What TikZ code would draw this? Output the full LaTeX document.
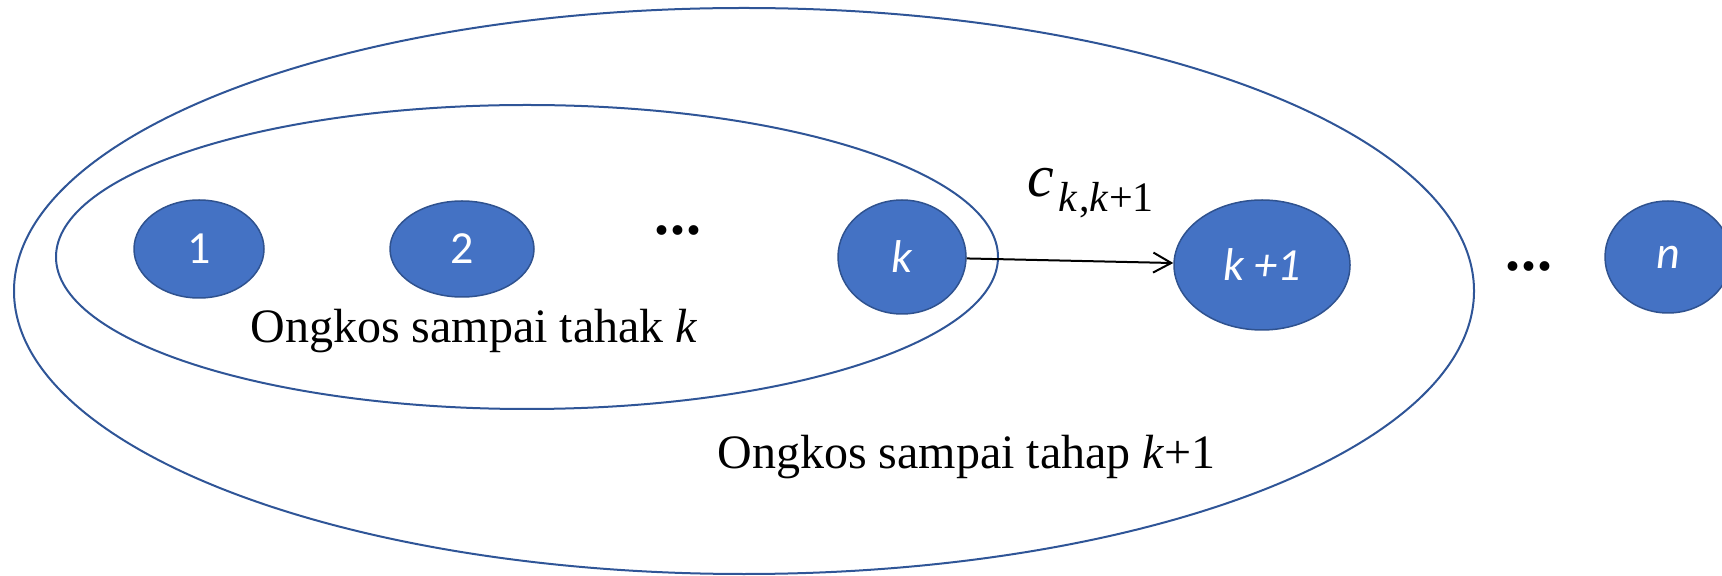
\documentclass[tikz,border=0pt]{standalone}
\usepackage{fontspec}
\setmainfont{Liberation Serif}
\newfontfamily\lblfont{Carlito}
\usepackage{xcolor}
\definecolor{ringblue}{RGB}{47,85,151}
\definecolor{stgfill}{RGB}{68,114,196}
\definecolor{stgline}{RGB}{47,82,143}
\usetikzlibrary{arrows.meta,shapes.geometric}

\begin{document}
\begin{tikzpicture}[x=0.5pt, y=-0.5pt,
        ring/.style={draw=ringblue, line width=1pt},
        stg/.style={ellipse, fill=stgfill, draw=stgline, line width=0.75pt, inner sep=0pt,
                    text=white, font=\lblfont\fontsize{23}{26}\selectfont},
        costlbl/.style={anchor=base west, inner sep=0pt, font=\fontsize{24}{28}\selectfont},
        dotlbl/.style={anchor=base, inner sep=0pt, font=\fontsize{30}{32}\selectfont\bfseries},
        costarrow/.style={-{Straight Barb[length=9pt, width=10pt]}, line width=1pt}
      ]
        \clip (0,0) rectangle (1722,576);
        \draw[ring] (744,291) ellipse [x radius=730, y radius=283];
        \draw[ring] (527,257) ellipse [x radius=471, y radius=152];
        \node[stg, minimum width=65pt, minimum height=49pt] (s1) at (199,249) {1};
        \node[stg, minimum width=72pt, minimum height=48pt] (s2) at (462,249) {2};
        \node[stg, minimum width=64pt, minimum height=57pt] (sk) at (902,257) {\itshape k};
        \node[stg, minimum width=88pt, minimum height=65pt] (sk1) at (1262,265) {\itshape k +1};
        \node[stg, minimum width=63pt, minimum height=56pt] (sn) at (1668,257) {\itshape n};
        \node[dotlbl] (dotsa) at (678,235) {.\kern0.5pt.\kern0.5pt.};
        \node[dotlbl] (dotsb) at (1529,271) {.\kern0.5pt.\kern0.5pt.};
        \node[costlbl] (costk) at (250,343) {Ongkos sampai tahak \textit{k}};
        \node[costlbl] (costk1) at (717,469) {Ongkos sampai tahap \textit{k}+1};
        \node[anchor=base west, inner sep=0pt] (ckk) at (1027,197)
          {\fontsize{30}{32}\selectfont\textit{c}\kern2pt\raisebox{-7.5pt}{\fontsize{21}{24}\selectfont\textit{k}\kern1pt,\textit{k}+1}};
        \draw[costarrow] (sk) -- (sk1);
      \end{tikzpicture}
\end{document}
